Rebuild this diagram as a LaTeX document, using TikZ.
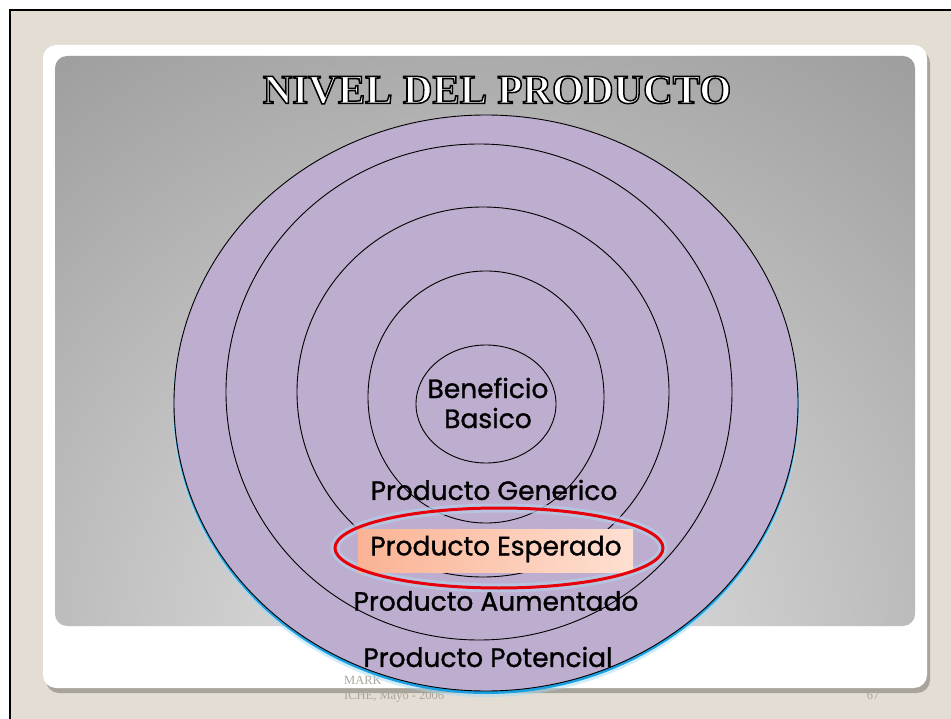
\documentclass[tikz,border=0pt]{standalone}
\usepackage{fontspec}
\setmainfont{Liberation Serif}
\newfontfamily\handfont{Poppins}[BoldFont=Poppins, BoldFeatures={FakeBold=1.1}]
\newfontfamily\titlefont{Liberation Serif}
\usetikzlibrary{calc}

\definecolor{beige}{HTML}{E3DDD3}
\definecolor{cardshadow}{HTML}{A9A499}
\definecolor{panellight}{HTML}{E6E6E6}
\definecolor{paneldark}{HTML}{9A9A9A}
\definecolor{ringfill}{HTML}{BDADCE}
\definecolor{glowblue}{HTML}{1BA1E2}
\definecolor{halo}{HTML}{B4CDE6}
\definecolor{markred}{HTML}{E8000B}
\definecolor{boxleft}{HTML}{FAB394}
\definecolor{boxright}{HTML}{FEE0D2}
\definecolor{footgray}{HTML}{ABA69C}

% white letters with a black edge
\newcommand\edgedtext[1]{\special{pdf:literal direct 2 Tr 1.5 w 0 0 0 RG}#1\special{pdf:literal direct 0 Tr}}

\begin{document}
\begin{tikzpicture}[
   x=1pt, y=-1pt,
   ring/.style={draw=black, line width=0.9pt},
   levellabel/.style={font=\handfont\bfseries\fontsize{26.5}{30}\selectfont, text=black, inner sep=0pt},
   titlelayer/.style={font=\titlefont\bfseries\fontsize{41}{44}\selectfont, inner sep=0pt},
   footnote/.style={font=\fontsize{12.5}{14}\selectfont, text=footgray, inner sep=0pt, anchor=base west}
]
\useasboundingbox (0,0) rectangle (951,719);

% --- page and frame
\fill[beige] (10,10) rectangle (951,719);
\draw[line width=2pt] (10,719) -- (10,10) -- (951,10);

% --- slide card and grey panel
\fill[cardshadow, rounded corners=13pt] (46,50) rectangle (930,693);
\fill[white, rounded corners=13pt] (43,45) rectangle (927,688);
\begin{scope}
   \clip[rounded corners=12pt] (55,56) rectangle (915,626);
   \shade[inner color=panellight, outer color=paneldark] (480,660) circle (780);
\end{scope}

% --- footer (partly under the rings)
\node[footnote] (footone) at (344,684) {MARK};
\node[footnote] (foottwo) at (344,699) {ICHE, Mayo - 2006};
\node[footnote, anchor=base] (pagenum) at (873,699) {67};

% --- rings, outer to inner
\fill[glowblue!40, opacity=0.5] (486,407.5) ellipse [x radius=313.5, y radius=289.5];
\fill[glowblue] (486,405.5) ellipse [x radius=312.5, y radius=288.5];
\filldraw[ring, fill=ringfill] (486,403) ellipse [x radius=312, y radius=288];
\draw[ring] (479,392) ellipse [x radius=253, y radius=248];
\draw[ring] (483,392) ellipse [x radius=186, y radius=185];
\draw[ring] (486,397) ellipse [x radius=118, y radius=126];
\draw[ring] (486,404) ellipse [x radius=70, y radius=59];

% --- title
\node[titlelayer, text=white] (title) at (497,90) {\edgedtext{NIVEL DEL PRODUCTO}};

% --- highlight of the expected product
\draw[halo, line width=9pt, opacity=0.75] (499,548) ellipse [x radius=164, y radius=40];
\shade[left color=boxleft, right color=boxright] (358,529) rectangle (633,572);
\draw[markred, line width=3pt] (499,548) ellipse [x radius=164, y radius=40];

% --- level labels
\node[levellabel, align=center] (beneficio) at (488,403) {Beneficio\\Basico};
\node[levellabel] (generico) at (494,490) {Producto Generico};
\node[levellabel] (esperado) at (496,549) {Producto Esperado};
\node[levellabel] (aumentado) at (496,601) {Producto Aumentado};
\node[levellabel] (potencial) at (488,657) {Producto Potencial};

\end{tikzpicture}
\end{document}
